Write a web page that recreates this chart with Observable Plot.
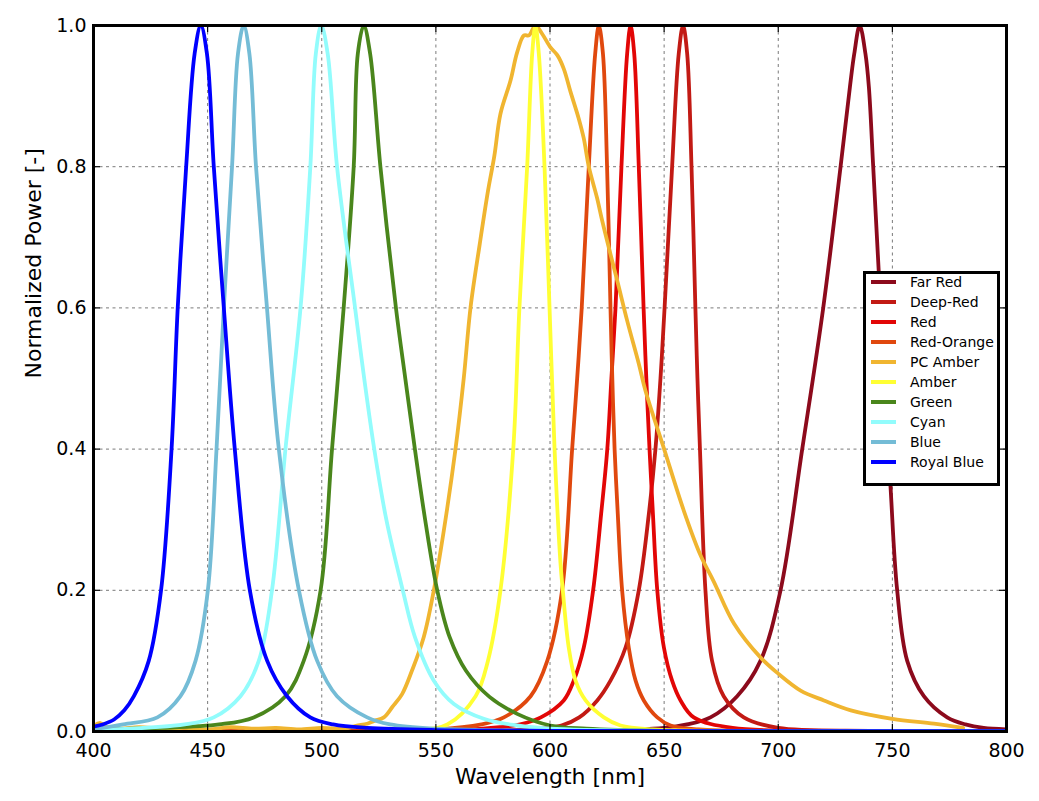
<!DOCTYPE html>
<html>
<head>
<meta charset="utf-8">
<script src="https://cdn.jsdelivr.net/npm/d3@7"></script>
<script src="https://cdn.jsdelivr.net/npm/@observablehq/plot@0.6"></script>
<style>
  html, body { margin: 0; padding: 0; background: #fff; }
  #wrap { position: relative; width: 1039px; height: 801px; font-family: "DejaVu Sans", sans-serif; }
  #legend { position: absolute; left: 863px; top: 271px; width: 131px; height: 209px; border: 3px solid #000; background: #fff; }
  .row { position: absolute; left: 5px; height: 20px; display: flex; align-items: center; font-size: 14px; color: #000; white-space: nowrap; }
  .sw { width: 25px; height: 4px; margin-right: 14px; }
</style>
</head>
<body>
<div id="wrap"></div>
<script>
// ---- Data (wavelength [nm], normalized power) ----
const seriesNames = ["Far Red", "Deep-Red", "Red", "Red-Orange", "PC Amber", "Amber", "Green", "Cyan", "Blue", "Royal Blue"];
const seriesColors = ["#8c0a1c", "#c21a14", "#e20606", "#e0480e", "#f0b530", "#ffff33", "#4a861c", "#92fcfc", "#74bcd6", "#0000ff"];

const farRed = [[400,0.0005],[620,0.001],[650,0.005],[660,0.01],[670.3,0.02],[682,0.05],[692.2,0.1],[701,0.2],[710.5,0.4],[719.7,0.6],[727.3,0.8],[731.4,0.913],[733.3,0.96],[735.7,1.0],[738.2,0.96],[739.7,0.913],[741.6,0.8],[744,0.653],[746.5,0.5],[749.2,0.346],[752.1,0.2],[756.5,0.1],[763.8,0.05],[774,0.02],[782,0.01],[790,0.005],[800,0.003]];
const deepRed = [[400,0.0005],[560,0.001],[590,0.003],[605,0.0085],[612.8,0.02],[620.7,0.044],[626.5,0.072],[633.1,0.119],[638.9,0.2],[643.3,0.308],[646.2,0.4],[648.4,0.5],[650.2,0.6],[653.5,0.8],[656.4,0.96],[658.3,1.0],[660.1,0.96],[662,0.8],[663.7,0.6],[664.6,0.5],[665.7,0.4],[668.1,0.2],[671,0.1],[676.1,0.05],[684.9,0.02],[700,0.005],[740,0.001],[800,0.0005]];
const red = [[400,0.0005],[560,0.002],[578,0.006],[587,0.01],[596,0.02],[606,0.044],[610.4,0.072],[614.8,0.119],[618.9,0.2],[622.4,0.308],[625.1,0.4],[626.9,0.5],[628.7,0.6],[631.3,0.8],[633.8,0.96],[635.3,1.0],[636.9,0.96],[638.9,0.8],[641,0.6],[642.2,0.5],[643.6,0.4],[645.1,0.308],[647,0.2],[649.9,0.119],[653.5,0.072],[657.2,0.044],[663,0.02],[680,0.005],[720,0.001],[800,0.0005]];
const redOrange = [[400,0.001],[550,0.003],[570,0.01],[579.8,0.02],[591.5,0.05],[598.8,0.1],[605.3,0.2],[609.7,0.4],[611.9,0.5],[613.9,0.6],[617,0.8],[619.8,0.96],[621.4,1.0],[623.2,0.96],[625,0.8],[626.5,0.6],[627.3,0.5],[628.3,0.4],[629.7,0.308],[631.6,0.2],[634.5,0.119],[637.5,0.072],[641.1,0.044],[647,0.02],[652.8,0.0085],[665,0.003],[700,0.001],[800,0.0005]];
const pcAmber = [[400,0.008],[403,0.012],[406,0.006],[412,0.004],[420,0.006],[430,0.004],[440,0.005],[450,0.003],[460,0.006],[470,0.004],[480,0.005],[490,0.003],[500,0.005],[510,0.004],[515,0.008],[519.9,0.011],[523,0.015],[527.2,0.02],[531,0.035],[535.2,0.053],[539.5,0.086],[544.7,0.134],[549.1,0.2],[553.5,0.285],[558.6,0.4],[562.2,0.5],[565.2,0.601],[569.2,0.69],[572.8,0.765],[575.6,0.815],[578.3,0.875],[582.7,0.922],[585.6,0.962],[588.6,0.986],[590.8,0.986],[593.6,1.0],[596.6,0.988],[600.2,0.969],[603.2,0.958],[606,0.939],[609,0.906],[612.6,0.868],[614.8,0.84],[617,0.8],[620.6,0.756],[622.9,0.723],[626.5,0.676],[629.5,0.638],[633.8,0.582],[638.9,0.521],[641.8,0.483],[650,0.4],[658.6,0.313],[665.9,0.25],[671.8,0.212],[680.6,0.153],[692.2,0.105],[700,0.082],[709.8,0.058],[720,0.044],[731.8,0.03],[750,0.018],[768.2,0.011],[781,0.005]];
const amber = [[400,0.001],[540,0.002],[555,0.01],[567.4,0.05],[572.8,0.1],[578.3,0.2],[583.9,0.4],[586.6,0.6],[590,0.8],[592.2,0.96],[593.6,1.0],[595.1,0.96],[597.6,0.8],[599.8,0.6],[602,0.4],[604.6,0.238],[605.6,0.2],[608.2,0.119],[611.2,0.072],[615.6,0.044],[623.6,0.02],[630.9,0.0085],[645,0.003],[680,0.001],[800,0.0005]];
const green = [[400,0.003],[430,0.005],[455,0.01],[470.2,0.02],[484.1,0.05],[492.1,0.1],[499.5,0.2],[504.5,0.4],[509.6,0.6],[514,0.8],[515.8,0.96],[518.4,1.0],[521.2,0.96],[525.7,0.8],[532.5,0.6],[536.6,0.5],[540.8,0.4],[545.3,0.3],[550.6,0.2],[556,0.134],[563.2,0.086],[573.5,0.049],[585.6,0.025],[600.2,0.0085],[616,0.004],[650,0.001],[800,0.0005]];
const cyan = [[400,0.002],[440,0.01],[452.7,0.02],[464.4,0.05],[472.4,0.1],[478.2,0.2],[484.1,0.4],[490.7,0.6],[495,0.8],[497.4,0.96],[499.8,1.0],[502.6,0.96],[506.7,0.8],[514.6,0.6],[518.6,0.5],[523,0.4],[528.3,0.3],[535.5,0.2],[540.8,0.134],[549.1,0.072],[557.9,0.039],[571,0.018],[585.6,0.0085],[600,0.004],[650,0.001],[800,0.0005]];
const blue = [[400,0.003],[413,0.01],[428,0.02],[438.1,0.05],[444.7,0.1],[450.1,0.2],[453.9,0.4],[457.1,0.6],[460.7,0.8],[463.3,0.96],[465.8,1.0],[468.3,0.96],[471.2,0.8],[476,0.6],[481.2,0.4],[490,0.2],[498,0.1],[506.7,0.05],[519.9,0.02],[530,0.01],[550,0.004],[600,0.001],[800,0.0005]];
const royalBlue = [[400,0.007],[404,0.01],[409,0.017],[413.5,0.03],[417.7,0.05],[424.2,0.1],[429.6,0.2],[434.2,0.4],[436.9,0.6],[440.6,0.8],[444.3,0.96],[447,1.0],[449.7,0.96],[452.7,0.8],[457.1,0.6],[461.9,0.4],[468.5,0.2],[476.1,0.1],[484.8,0.05],[495,0.02],[505,0.01],[520,0.005],[550,0.002],[600,0.001],[800,0.0005]];

const seriesData = [farRed, deepRed, red, redOrange, pcAmber, amber, green, cyan, blue, royalBlue];

const xTicks = [400, 450, 500, 550, 600, 650, 700, 750, 800];
const yTicks = [0.0, 0.2, 0.4, 0.6, 0.8, 1.0];
const xGrid = [450, 500, 550, 600, 650, 700, 750];
const yGrid = [0.2, 0.4, 0.6, 0.8];

// ---- Build ----
const W = 1039, H = 801;
const mL = 93, mR = 33, mT = 25, mB = 70;
const innerW = W - mL - mR, innerH = H - mT - mB;
const tickLen = 7;

const rows = [];
seriesData.forEach((arr, i) => arr.forEach(([wl, p]) => rows.push({name: seriesNames[i], idx: i, wl, p})));

const lineMarks = seriesNames.map((n, i) =>
  Plot.line(rows.filter(r => r.idx === i), {
    x: "wl", y: "p",
    stroke: seriesColors[i], strokeWidth: 3.8,
    curve: "catmull-rom",
    strokeLinejoin: "round", strokeLinecap: "round"
  })
);

const chart = Plot.plot({
  width: W, height: H,
  marginLeft: mL, marginRight: mR, marginTop: mT, marginBottom: mB,
  style: {fontFamily: "DejaVu Sans, sans-serif", background: "#fff", color: "#000"},
  x: {domain: [400, 800]},
  y: {domain: [0, 1]},
  clip: true,
  marks: [
    Plot.ruleX(xGrid, {x: d => d, stroke: "#7a7a7a", strokeWidth: 1, strokeDasharray: "3,3.5", clip: false}),
    Plot.ruleY(yGrid, {y: d => d, stroke: "#7a7a7a", strokeWidth: 1, strokeDasharray: "3,3.5", clip: false}),
    ...lineMarks,
    // inward ticks on all four sides
    Plot.tickX(xTicks, {x: d => d, insetTop: innerH - tickLen, stroke: "#000", strokeWidth: 1.2, clip: false}),
    Plot.tickX(xTicks, {x: d => d, insetBottom: innerH - tickLen, stroke: "#000", strokeWidth: 1.2, clip: false}),
    Plot.tickY(yTicks, {y: d => d, insetRight: innerW - tickLen, stroke: "#000", strokeWidth: 1.2, clip: false}),
    Plot.tickY(yTicks, {y: d => d, insetLeft: innerW - tickLen, stroke: "#000", strokeWidth: 1.2, clip: false}),
    Plot.frame({stroke: "#000", strokeWidth: 3}),
    Plot.axisX({ticks: xTicks, tickSize: 0, tickPadding: 12, fontSize: 19, label: null, tickFormat: d => String(d)}),
    Plot.axisY({ticks: yTicks, tickSize: 0, tickPadding: 7, fontSize: 19, label: null, tickFormat: d => d.toFixed(1)}),
    Plot.text(["Wavelength [nm]"], {frameAnchor: "bottom", lineAnchor: "middle", dy: 45, fontSize: 22, fill: "#000", clip: false}),
    Plot.text(["Normalized Power [-]"], {frameAnchor: "left", rotate: -90, dx: -60, fontSize: 22, fill: "#000", clip: false})
  ]
});

const wrap = document.getElementById("wrap");
wrap.appendChild(chart);

// legend
const legend = document.createElement("div");
legend.id = "legend";
seriesNames.forEach((n, i) => {
  const row = document.createElement("div");
  row.className = "row";
  row.style.top = (-2 + i * 20) + "px";
  const sw = document.createElement("span");
  sw.className = "sw";
  sw.style.background = seriesColors[i];
  const tx = document.createElement("span");
  tx.textContent = n;
  row.appendChild(sw); row.appendChild(tx);
  legend.appendChild(row);
});
wrap.appendChild(legend);
</script>
</body>
</html>
